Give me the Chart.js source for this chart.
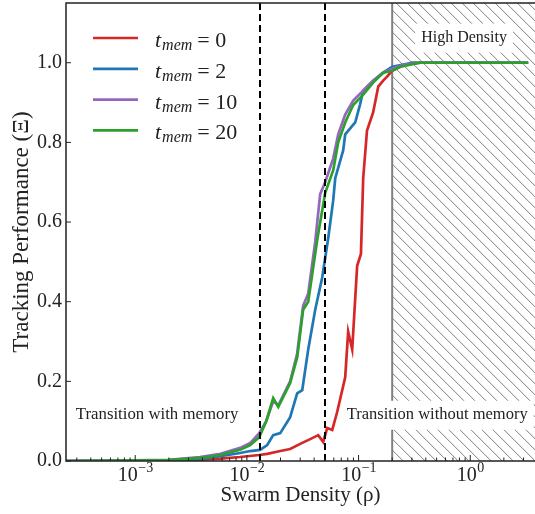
<!DOCTYPE html>
<html>
<head>
<meta charset="utf-8">
<script src="https://cdn.jsdelivr.net/npm/chart.js@4.4.1/dist/chart.umd.min.js"></script>
<style>
  html, body { margin: 0; padding: 0; background: #fff; }
  #wrap { width: 535px; height: 514px; }
</style>
</head>
<body>
<div id="wrap"><canvas id="chart" width="535" height="514"></canvas></div>
<script>
// memory lengths (one curve each)
const memLengths = [0, 2, 10, 20];
const lineColors = ["#d62728", "#1f77b4", "#9467bd", "#2ca02c"];

// t_mem = 0
const rhoMem0 = [0.00024, 0.001, 0.003, 0.0058, 0.0087, 0.0129, 0.0152, 0.0199, 0.0244, 0.030, 0.0369, 0.0435, 0.0482, 0.0524, 0.0581, 0.0643, 0.0759, 0.0807, 0.0877, 0.0971, 0.105, 0.110, 0.119, 0.135, 0.150, 0.166, 0.180, 0.200, 0.236, 0.300, 3.3];
const perfMem0 = [0.0, 0.0, 0.002, 0.006, 0.010, 0.015, 0.018, 0.025, 0.030, 0.043, 0.055, 0.065, 0.048, 0.083, 0.078, 0.123, 0.210, 0.325, 0.280, 0.490, 0.520, 0.710, 0.830, 0.875, 0.940, 0.955, 0.965, 0.980, 0.990, 1.0, 1.0];

// t_mem = 2
const rhoMem2 = [0.00024, 0.002, 0.0038, 0.0058, 0.0087, 0.0107, 0.0131, 0.0152, 0.0172, 0.0199, 0.0244, 0.0282, 0.0313, 0.0354, 0.0409, 0.0472, 0.0535, 0.0593, 0.0618, 0.0728, 0.0759, 0.0933, 0.103, 0.110, 0.135, 0.166, 0.200, 0.300, 3.3];
const perfMem2 = [0.0, 0.002, 0.005, 0.012, 0.020, 0.025, 0.028, 0.040, 0.065, 0.070, 0.110, 0.170, 0.178, 0.280, 0.380, 0.460, 0.560, 0.655, 0.710, 0.780, 0.820, 0.850, 0.895, 0.930, 0.955, 0.975, 0.990, 1.0, 1.0];

// t_mem = 10
const rhoMem10 = [0.00024, 0.002, 0.0038, 0.0058, 0.0087, 0.0107, 0.0129, 0.0149, 0.0172, 0.0191, 0.0244, 0.0282, 0.0319, 0.0354, 0.0409, 0.0453, 0.0502, 0.0593, 0.0657, 0.0759, 0.0895, 0.110, 0.135, 0.166, 0.200, 0.251, 0.356, 3.3];
const perfMem10 = [0.0, 0.003, 0.010, 0.018, 0.033, 0.045, 0.070, 0.100, 0.150, 0.140, 0.200, 0.270, 0.390, 0.420, 0.550, 0.670, 0.700, 0.760, 0.820, 0.870, 0.905, 0.930, 0.955, 0.975, 0.985, 0.995, 1.0, 1.0];

// t_mem = 20
const rhoMem20 = [0.00024, 0.002, 0.0038, 0.0058, 0.0087, 0.0107, 0.0129, 0.0149, 0.0172, 0.0191, 0.0244, 0.0282, 0.0319, 0.0354, 0.0426, 0.0502, 0.0593, 0.0657, 0.0759, 0.0895, 0.110, 0.135, 0.166, 0.200, 0.236, 0.356, 3.3];
const perfMem20 = [0.0, 0.002, 0.008, 0.015, 0.028, 0.040, 0.060, 0.100, 0.158, 0.136, 0.196, 0.260, 0.380, 0.400, 0.555, 0.673, 0.730, 0.800, 0.850, 0.894, 0.920, 0.950, 0.975, 0.980, 0.990, 1.0, 1.0];

const seriesRho = [rhoMem0, rhoMem2, rhoMem10, rhoMem20];
const seriesPerf = [perfMem0, perfMem2, perfMem10, perfMem20];

// axes
const xMajorTicks = [1e-3, 1e-2, 1e-1, 1];
const yTicks = [0.0, 0.2, 0.4, 0.6, 0.8, 1.0];
const X_MIN = 2.4e-4, X_MAX = 3.8;

// markers
const transitionWithMemory = 0.013;
const transitionWithoutMemory = 0.0505;
const highDensityStart = 0.2;
const notes = [
    { text: "Transition with memory", x: 0.00157, y: 0.116, box: false, size: 16.8 },
    { text: "Transition without memory", x: 0.506, y: 0.116, box: true, size: 16.5 },
    { text: "High Density", x: 0.88, y: 1.063, box: true, size: 16 },
];

const SERIF = "'Liberation Serif', 'DejaVu Serif', serif";

// minor ticks 2..9 x 10^n inside the axis range
const xAllTicks = [];
for (let e = -4; e <= 0; e++) {
    for (let m = 1; m <= 9; m++) {
        const v = m * Math.pow(10, e);
        if (v >= X_MIN && v <= X_MAX) xAllTicks.push(v);
    }
}

// later series sit on top (green over purple over blue over red)
const datasets = memLengths.map((m, i) => ({
    label: "t_mem = " + m,
    data: seriesRho[i].map((r, j) => ({ x: r, y: seriesPerf[i][j] })),
    borderColor: lineColors[i],
    borderWidth: 2.7,
    pointRadius: 0,
    tension: 0,
    fill: false,
    order: memLengths.length - 1 - i,
}));

const figurePlugin = {
    id: "figure",
    beforeDatasetsDraw(chart) {
        const { ctx, chartArea: a, scales: { x, y } } = chart;
        const hx = x.getPixelForValue(highDensityStart);

        // hatched high density region
        ctx.save();
        ctx.beginPath();
        ctx.rect(hx, a.top, a.right - hx, a.bottom - a.top);
        ctx.clip();
        ctx.strokeStyle = "#707070";
        ctx.lineWidth = 0.9;
        const h = a.bottom - a.top;
        for (let sx = hx - h; sx < a.right; sx += 11) {
            ctx.beginPath();
            ctx.moveTo(sx, a.top);
            ctx.lineTo(sx + h, a.bottom);
            ctx.stroke();
        }
        ctx.restore();

        ctx.save();
        ctx.strokeStyle = "#808080";
        ctx.lineWidth = 2;
        ctx.beginPath();
        ctx.moveTo(hx, a.top);
        ctx.lineTo(hx, a.bottom);
        ctx.stroke();

        // text notes
        ctx.textAlign = "center";
        ctx.textBaseline = "middle";
        notes.forEach(n => {
            ctx.font = n.size + "px " + SERIF;
            const px = x.getPixelForValue(n.x);
            const py = y.getPixelForValue(n.y);
            const w = ctx.measureText(n.text).width;
            if (n.box) {
                ctx.fillStyle = "#ffffff";
                ctx.fillRect(px - w / 2 - 6, py - 14, w + 12, 29);
            }
            ctx.fillStyle = "#222222";
            ctx.fillText(n.text, px, py);
        });
        ctx.restore();
    },
    afterDatasetsDraw(chart) {
        const { ctx, chartArea: a, scales: { x, y } } = chart;
        ctx.save();

        // dashed transition lines
        ctx.strokeStyle = "#000000";
        ctx.lineWidth = 2;
        ctx.setLineDash([7, 4]);
        [transitionWithMemory, transitionWithoutMemory].forEach(v => {
            const px = Math.round(x.getPixelForValue(v));
            ctx.beginPath();
            ctx.moveTo(px, a.top);
            ctx.lineTo(px, a.bottom);
            ctx.stroke();
        });
        ctx.setLineDash([]);

        // frame
        ctx.strokeStyle = "#222222";
        ctx.lineWidth = 1.5;
        ctx.beginPath();
        ctx.moveTo(a.right + 2, a.top);
        ctx.lineTo(a.left, a.top);
        ctx.lineTo(a.left, a.bottom);
        ctx.lineTo(a.right + 2, a.bottom);
        ctx.stroke();

        // inward ticks
        ctx.lineWidth = 1;
        x.ticks.forEach(t => {
            const px = x.getPixelForValue(t.value);
            const len = xMajorTicks.includes(t.value) ? 6 : 3.5;
            ctx.beginPath();
            ctx.moveTo(px, a.bottom);
            ctx.lineTo(px, a.bottom - len);
            ctx.stroke();
        });
        y.ticks.forEach(t => {
            const py = y.getPixelForValue(t.value);
            ctx.beginPath();
            ctx.moveTo(a.left, py);
            ctx.lineTo(a.left + 5, py);
            ctx.stroke();
        });

        // x tick labels 10^n
        ctx.fillStyle = "#222222";
        ctx.textBaseline = "alphabetic";
        ctx.textAlign = "left";
        xMajorTicks.forEach(v => {
            const e = Math.round(Math.log10(v));
            const exp = e < 0 ? "\u2212" + (-e) : String(e);
            ctx.font = "20px " + SERIF;
            const w1 = ctx.measureText("10").width;
            ctx.font = "14px " + SERIF;
            const w2 = ctx.measureText(exp).width;
            const start = x.getPixelForValue(v) - (w1 + w2) / 2;
            ctx.font = "20px " + SERIF;
            ctx.fillText("10", start, a.bottom + 20);
            ctx.font = "14px " + SERIF;
            ctx.fillText(exp, start + w1 + 0.5, a.bottom + 11);
        });

        // legend
        memLengths.forEach((m, i) => {
            const ly = 38 + i * 30.8;
            ctx.strokeStyle = lineColors[i];
            ctx.lineWidth = 2.7;
            ctx.beginPath();
            ctx.moveTo(93, ly);
            ctx.lineTo(138, ly);
            ctx.stroke();
            ctx.fillStyle = "#222222";
            let tx = 155;
            ctx.font = "italic 22px " + SERIF;
            ctx.fillText("t", tx, ly + 9);
            tx += ctx.measureText("t").width + 1;
            ctx.font = "italic 16px " + SERIF;
            ctx.fillText("mem", tx, ly + 12);
            tx += ctx.measureText("mem").width + 5;
            ctx.font = "22px " + SERIF;
            ctx.fillText("= " + m, tx, ly + 9);
        });
        ctx.restore();
    }
};

new Chart(document.getElementById("chart"), {
    type: "line",
    data: { datasets: datasets },
    options: {
        responsive: false,
        animation: false,
        layout: { padding: { top: 3, right: 0, bottom: 0, left: 0 } },
        plugins: { legend: { display: false }, tooltip: { enabled: false } },
        scales: {
            x: {
                type: "logarithmic",
                min: X_MIN,
                max: X_MAX,
                grid: { display: false },
                border: { display: false },
                ticks: { display: false },
                afterBuildTicks: s => { s.ticks = xAllTicks.map(v => ({ value: v })); },
                afterFit: s => { s.height = 53; s.paddingLeft = 0; s.paddingRight = 0; },
                title: { display: true, text: "Swarm Density (\u03c1)", color: "#222222", font: { family: SERIF, size: 21 }, padding: { top: 0, bottom: 6 } }
            },
            y: {
                min: 0,
                max: 1.15,
                grid: { display: false, drawTicks: false },
                border: { display: false },
                ticks: { color: "#222222", font: { family: SERIF, size: 20 }, padding: 4, callback: v => v.toFixed(1) },
                afterBuildTicks: s => { s.ticks = yTicks.map(v => ({ value: v })); },
                afterFit: s => { s.width = 66; s.paddingTop = 0; s.paddingBottom = 0; },
                title: { display: true, text: "Tracking Performance (\u039e)", color: "#222222", font: { family: SERIF, size: 23 }, padding: { top: 8, bottom: 0 } }
            }
        }
    },
    plugins: [figurePlugin]
});
</script>
</body>
</html>
